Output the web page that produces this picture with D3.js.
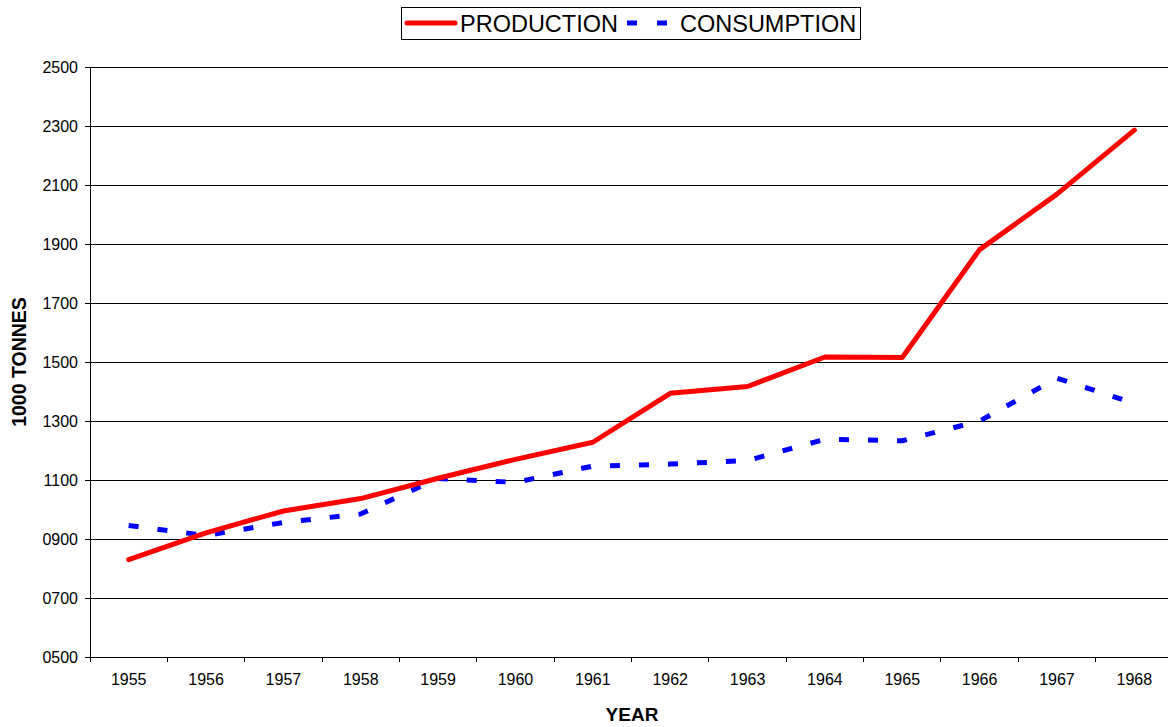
<!DOCTYPE html>
<head>
  <meta charset="utf-8">
  <script src="https://d3js.org/d3.v7.min.js"></script>
  <style>
    body { margin:0; background:#fff; }
    text { font-family: Arial, "Liberation Sans", sans-serif; fill:#000; }
    .axis path, .axis line { stroke:#000; shape-rendering: crispEdges; }
    .axis text { font-size: 16px; }
    .grid line { stroke:#000; shape-rendering: crispEdges; }
  </style>
</head>
<body>
  <svg id="chart"></svg>
  <script>
  var years = ["1955","1956","1957","1958","1959","1960","1961","1962","1963","1964","1965","1966","1967","1968"];
  var production = [830, 921, 995, 1037, 1106, 1170, 1228, 1394, 1417, 1517, 1515, 1881, 2069, 2286];
  var consumption = [946, 912, 956, 985, 1105, 1092, 1147, 1154, 1166, 1238, 1233, 1300, 1445, 1360];
  var yTicks = [500, 700, 900, 1100, 1300, 1500, 1700, 1900, 2100, 2300, 2500];

  var width = 1168, height = 727;
  var margin = {top: 67, right: -5, bottom: 70, left: 90};
  var plotW = width - margin.left - margin.right;
  var plotH = height - margin.top - margin.bottom;

  var svg = d3.select("#chart")
    .attr("width", width)
    .attr("height", height);

  var g = svg.append("g")
    .attr("transform", "translate(" + margin.left + "," + margin.top + ")");

  var x = d3.scaleBand()
    .domain(years)
    .range([0, plotW]);

  var y = d3.scaleLinear()
    .domain([500, 2500])
    .range([plotH, 0]);

  // horizontal grid lines
  g.append("g")
    .attr("class", "grid")
    .selectAll("line")
    .data(yTicks)
    .enter().append("line")
    .attr("x1", 0)
    .attr("x2", plotW)
    .attr("y1", function(d) { return y(d); })
    .attr("y2", function(d) { return y(d); });

  // y axis
  g.append("g")
    .attr("class", "axis")
    .call(d3.axisLeft(y).tickValues(yTicks).tickFormat(d3.format("04d")).tickSizeOuter(0).tickSize(5).tickPadding(7));

  // x axis, ticks between categories
  var xAxis = g.append("g")
    .attr("class", "axis")
    .attr("transform", "translate(0," + plotH + ")")
    .call(d3.axisBottom(x).tickSize(0).tickPadding(17));
  xAxis.select(".domain").remove();
  xAxis.append("line")
    .attr("x1", 0).attr("x2", plotW)
    .attr("stroke", "#000")
    .style("shape-rendering", "crispEdges");
  xAxis.selectAll(".sep")
    .data(years)
    .enter().append("line")
    .attr("class", "sep")
    .attr("x1", function(d) { return x(d); })
    .attr("x2", function(d) { return x(d); })
    .attr("y1", 0).attr("y2", 5);

  var line = d3.line()
    .x(function(d, i) { return x(years[i]) + x.bandwidth() / 2; })
    .y(function(d) { return y(d); });

  g.append("path")
    .attr("d", line(consumption))
    .attr("fill", "none")
    .attr("stroke", "#0000ff")
    .attr("stroke-width", 5)
    .attr("stroke-dasharray", "10,19");

  g.append("path")
    .attr("d", line(production))
    .attr("fill", "none")
    .attr("stroke", "#ff0000")
    .attr("stroke-width", 5)
    .attr("stroke-linejoin", "round")
    .attr("stroke-linecap", "round");

  // axis titles
  svg.append("text")
    .attr("transform", "translate(26," + (margin.top + plotH / 2) + ") rotate(-90)")
    .attr("text-anchor", "middle")
    .style("font-size", "19.5px")
    .style("font-weight", "bold")
    .text("1000 TONNES");

  svg.append("text")
    .attr("x", 632)
    .attr("y", 721)
    .attr("text-anchor", "middle")
    .style("font-size", "19px")
    .style("font-weight", "bold")
    .text("YEAR");

  // legend
  var legend = svg.append("g");
  legend.append("rect")
    .attr("x", 401.5).attr("y", 7.5)
    .attr("width", 459).attr("height", 32)
    .attr("fill", "#fff")
    .attr("stroke", "#000");
  legend.append("line")
    .attr("x1", 407).attr("x2", 455)
    .attr("y1", 23).attr("y2", 23)
    .attr("stroke", "#ff0000")
    .attr("stroke-width", 5)
    .attr("stroke-linecap", "round");
  legend.append("text")
    .attr("x", 460).attr("y", 32)
    .style("font-size", "23.5px")
    .text("PRODUCTION");
  legend.append("line")
    .attr("x1", 627).attr("x2", 667)
    .attr("y1", 23).attr("y2", 23)
    .attr("stroke", "#0000ff")
    .attr("stroke-width", 5)
    .attr("stroke-dasharray", "10,20");
  legend.append("text")
    .attr("x", 680).attr("y", 32)
    .style("font-size", "23.5px")
    .text("CONSUMPTION");
  </script>
</body>
